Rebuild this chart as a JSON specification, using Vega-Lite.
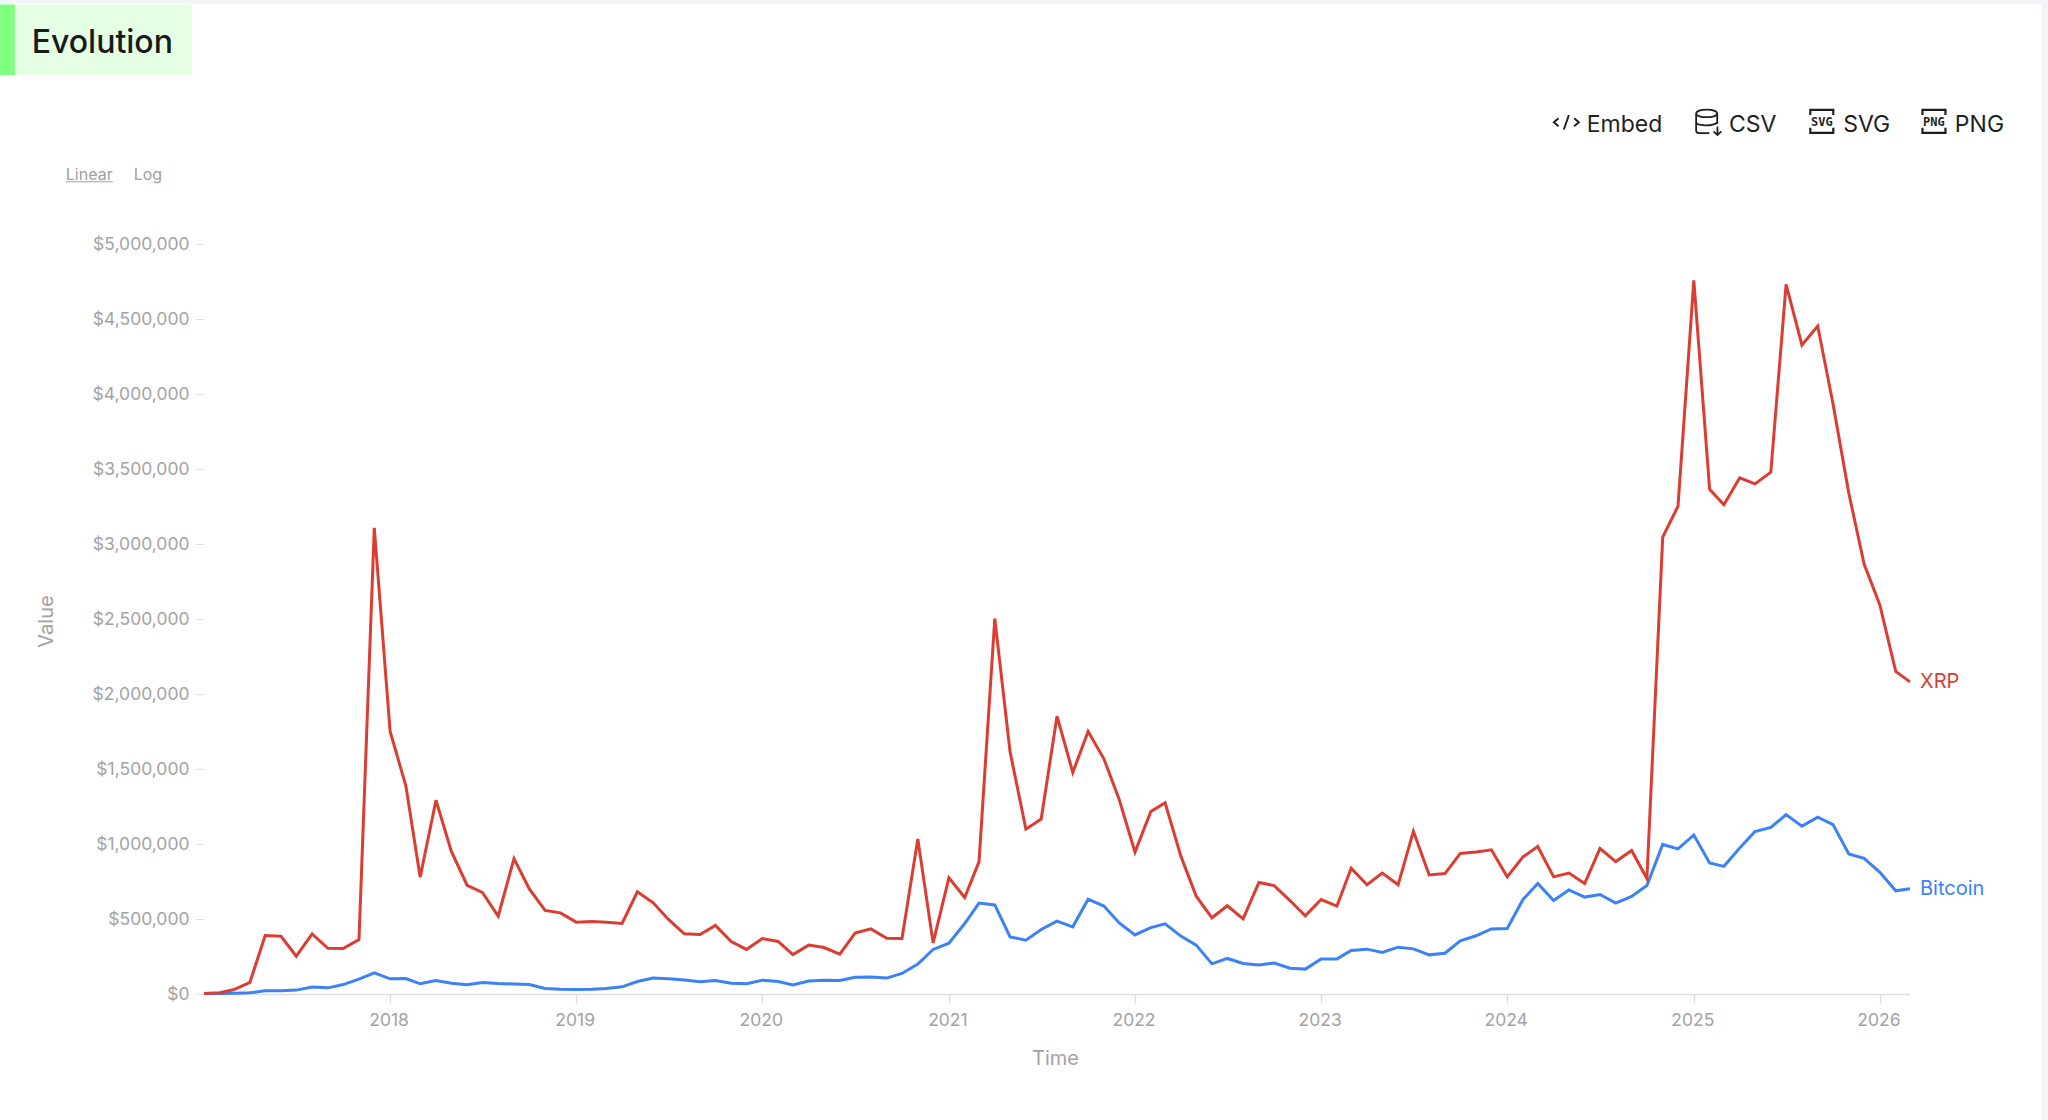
{
"$schema":"https://vega.github.io/schema/vega-lite/v6.json",
"autosize":{"type":"none"},
"padding":{"left":204,"top":244,"right":138,"bottom":126},
"width":1706,
"height":750,
"background":"#ffffff",
"config":{"view":{"stroke":null},"font":"Inter"},
"datasets":{
"ends":[{"date":"2026-03-01","asset":"Bitcoin","value":701000},{"date":"2026-03-01","asset":"XRP","value":2081000}],
"series":[
{"date":"2017-01-01","asset":"Bitcoin","value":3000},{"date":"2017-02-01","asset":"Bitcoin","value":3000},{"date":"2017-03-01","asset":"Bitcoin","value":5000},{"date":"2017-04-01","asset":"Bitcoin","value":8000},{"date":"2017-05-01","asset":"Bitcoin","value":21000},{"date":"2017-06-01","asset":"Bitcoin","value":21000},{"date":"2017-07-01","asset":"Bitcoin","value":26000},{"date":"2017-08-01","asset":"Bitcoin","value":46000},{"date":"2017-09-01","asset":"Bitcoin","value":41000},{"date":"2017-10-01","asset":"Bitcoin","value":63000},{"date":"2017-11-01","asset":"Bitcoin","value":99000},{"date":"2017-12-01","asset":"Bitcoin","value":141000},
{"date":"2018-01-01","asset":"Bitcoin","value":101000},{"date":"2018-02-01","asset":"Bitcoin","value":103000},{"date":"2018-03-01","asset":"Bitcoin","value":68000},{"date":"2018-04-01","asset":"Bitcoin","value":90000},{"date":"2018-05-01","asset":"Bitcoin","value":72000},{"date":"2018-06-01","asset":"Bitcoin","value":61000},{"date":"2018-07-01","asset":"Bitcoin","value":77000},{"date":"2018-08-01","asset":"Bitcoin","value":70000},{"date":"2018-09-01","asset":"Bitcoin","value":66000},{"date":"2018-10-01","asset":"Bitcoin","value":63000},{"date":"2018-11-01","asset":"Bitcoin","value":37000},{"date":"2018-12-01","asset":"Bitcoin","value":32000},
{"date":"2019-01-01","asset":"Bitcoin","value":30000},{"date":"2019-02-01","asset":"Bitcoin","value":32000},{"date":"2019-03-01","asset":"Bitcoin","value":37000},{"date":"2019-04-01","asset":"Bitcoin","value":48000},{"date":"2019-05-01","asset":"Bitcoin","value":83000},{"date":"2019-06-01","asset":"Bitcoin","value":106000},{"date":"2019-07-01","asset":"Bitcoin","value":101000},{"date":"2019-08-01","asset":"Bitcoin","value":93000},{"date":"2019-09-01","asset":"Bitcoin","value":81000},{"date":"2019-10-01","asset":"Bitcoin","value":90000},{"date":"2019-11-01","asset":"Bitcoin","value":72000},{"date":"2019-12-01","asset":"Bitcoin","value":68000},
{"date":"2020-01-01","asset":"Bitcoin","value":92000},{"date":"2020-02-01","asset":"Bitcoin","value":83000},{"date":"2020-03-01","asset":"Bitcoin","value":61000},{"date":"2020-04-01","asset":"Bitcoin","value":86000},{"date":"2020-05-01","asset":"Bitcoin","value":92000},{"date":"2020-06-01","asset":"Bitcoin","value":90000},{"date":"2020-07-01","asset":"Bitcoin","value":112000},{"date":"2020-08-01","asset":"Bitcoin","value":114000},{"date":"2020-09-01","asset":"Bitcoin","value":106000},{"date":"2020-10-01","asset":"Bitcoin","value":137000},{"date":"2020-11-01","asset":"Bitcoin","value":199000},{"date":"2020-12-01","asset":"Bitcoin","value":297000},
{"date":"2021-01-01","asset":"Bitcoin","value":339000},{"date":"2021-02-01","asset":"Bitcoin","value":470000},{"date":"2021-03-01","asset":"Bitcoin","value":606000},{"date":"2021-04-01","asset":"Bitcoin","value":594000},{"date":"2021-05-01","asset":"Bitcoin","value":381000},{"date":"2021-06-01","asset":"Bitcoin","value":359000},{"date":"2021-07-01","asset":"Bitcoin","value":430000},{"date":"2021-08-01","asset":"Bitcoin","value":486000},{"date":"2021-09-01","asset":"Bitcoin","value":448000},{"date":"2021-10-01","asset":"Bitcoin","value":632000},{"date":"2021-11-01","asset":"Bitcoin","value":586000},{"date":"2021-12-01","asset":"Bitcoin","value":474000},
{"date":"2022-01-01","asset":"Bitcoin","value":394000},{"date":"2022-02-01","asset":"Bitcoin","value":443000},{"date":"2022-03-01","asset":"Bitcoin","value":468000},{"date":"2022-04-01","asset":"Bitcoin","value":386000},{"date":"2022-05-01","asset":"Bitcoin","value":326000},{"date":"2022-06-01","asset":"Bitcoin","value":201000},{"date":"2022-07-01","asset":"Bitcoin","value":237000},{"date":"2022-08-01","asset":"Bitcoin","value":203000},{"date":"2022-09-01","asset":"Bitcoin","value":194000},{"date":"2022-10-01","asset":"Bitcoin","value":206000},{"date":"2022-11-01","asset":"Bitcoin","value":172000},{"date":"2022-12-01","asset":"Bitcoin","value":166000},
{"date":"2023-01-01","asset":"Bitcoin","value":234000},{"date":"2023-02-01","asset":"Bitcoin","value":234000},{"date":"2023-03-01","asset":"Bitcoin","value":290000},{"date":"2023-04-01","asset":"Bitcoin","value":299000},{"date":"2023-05-01","asset":"Bitcoin","value":277000},{"date":"2023-06-01","asset":"Bitcoin","value":312000},{"date":"2023-07-01","asset":"Bitcoin","value":301000},{"date":"2023-08-01","asset":"Bitcoin","value":261000},{"date":"2023-09-01","asset":"Bitcoin","value":272000},{"date":"2023-10-01","asset":"Bitcoin","value":354000},{"date":"2023-11-01","asset":"Bitcoin","value":388000},{"date":"2023-12-01","asset":"Bitcoin","value":434000},
{"date":"2024-01-01","asset":"Bitcoin","value":437000},{"date":"2024-02-01","asset":"Bitcoin","value":630000},{"date":"2024-03-01","asset":"Bitcoin","value":737000},{"date":"2024-04-01","asset":"Bitcoin","value":623000},{"date":"2024-05-01","asset":"Bitcoin","value":694000},{"date":"2024-06-01","asset":"Bitcoin","value":646000},{"date":"2024-07-01","asset":"Bitcoin","value":663000},{"date":"2024-08-01","asset":"Bitcoin","value":606000},{"date":"2024-09-01","asset":"Bitcoin","value":650000},{"date":"2024-10-01","asset":"Bitcoin","value":723000},{"date":"2024-11-01","asset":"Bitcoin","value":997000},{"date":"2024-12-01","asset":"Bitcoin","value":967000},
{"date":"2025-01-01","asset":"Bitcoin","value":1060000},{"date":"2025-02-01","asset":"Bitcoin","value":874000},{"date":"2025-03-01","asset":"Bitcoin","value":851000},{"date":"2025-04-01","asset":"Bitcoin","value":973000},{"date":"2025-05-01","asset":"Bitcoin","value":1083000},{"date":"2025-06-01","asset":"Bitcoin","value":1110000},{"date":"2025-07-01","asset":"Bitcoin","value":1196000},{"date":"2025-08-01","asset":"Bitcoin","value":1119000},{"date":"2025-09-01","asset":"Bitcoin","value":1179000},{"date":"2025-10-01","asset":"Bitcoin","value":1129000},{"date":"2025-11-01","asset":"Bitcoin","value":934000},{"date":"2025-12-01","asset":"Bitcoin","value":904000},
{"date":"2026-01-01","asset":"Bitcoin","value":811000},{"date":"2026-02-01","asset":"Bitcoin","value":688000},{"date":"2026-03-01","asset":"Bitcoin","value":701000},
{"date":"2017-01-01","asset":"XRP","value":3000},{"date":"2017-02-01","asset":"XRP","value":8000},{"date":"2017-03-01","asset":"XRP","value":30000},{"date":"2017-04-01","asset":"XRP","value":77000},{"date":"2017-05-01","asset":"XRP","value":390000},{"date":"2017-06-01","asset":"XRP","value":385000},{"date":"2017-07-01","asset":"XRP","value":252000},{"date":"2017-08-01","asset":"XRP","value":400000},{"date":"2017-09-01","asset":"XRP","value":305000},{"date":"2017-10-01","asset":"XRP","value":303000},{"date":"2017-11-01","asset":"XRP","value":363000},{"date":"2017-12-01","asset":"XRP","value":3108000},
{"date":"2018-01-01","asset":"XRP","value":1752000},{"date":"2018-02-01","asset":"XRP","value":1386000},{"date":"2018-03-01","asset":"XRP","value":779000},{"date":"2018-04-01","asset":"XRP","value":1292000},{"date":"2018-05-01","asset":"XRP","value":952000},{"date":"2018-06-01","asset":"XRP","value":725000},{"date":"2018-07-01","asset":"XRP","value":677000},{"date":"2018-08-01","asset":"XRP","value":519000},{"date":"2018-09-01","asset":"XRP","value":903000},{"date":"2018-10-01","asset":"XRP","value":701000},{"date":"2018-11-01","asset":"XRP","value":557000},{"date":"2018-12-01","asset":"XRP","value":541000},
{"date":"2019-01-01","asset":"XRP","value":479000},{"date":"2019-02-01","asset":"XRP","value":483000},{"date":"2019-03-01","asset":"XRP","value":479000},{"date":"2019-04-01","asset":"XRP","value":470000},{"date":"2019-05-01","asset":"XRP","value":681000},{"date":"2019-06-01","asset":"XRP","value":608000},{"date":"2019-07-01","asset":"XRP","value":497000},{"date":"2019-08-01","asset":"XRP","value":401000},{"date":"2019-09-01","asset":"XRP","value":397000},{"date":"2019-10-01","asset":"XRP","value":457000},{"date":"2019-11-01","asset":"XRP","value":350000},{"date":"2019-12-01","asset":"XRP","value":297000},
{"date":"2020-01-01","asset":"XRP","value":370000},{"date":"2020-02-01","asset":"XRP","value":350000},{"date":"2020-03-01","asset":"XRP","value":263000},{"date":"2020-04-01","asset":"XRP","value":326000},{"date":"2020-05-01","asset":"XRP","value":310000},{"date":"2020-06-01","asset":"XRP","value":266000},{"date":"2020-07-01","asset":"XRP","value":406000},{"date":"2020-08-01","asset":"XRP","value":434000},{"date":"2020-09-01","asset":"XRP","value":372000},{"date":"2020-10-01","asset":"XRP","value":370000},{"date":"2020-11-01","asset":"XRP","value":1034000},{"date":"2020-12-01","asset":"XRP","value":341000},
{"date":"2021-01-01","asset":"XRP","value":774000},{"date":"2021-02-01","asset":"XRP","value":643000},{"date":"2021-03-01","asset":"XRP","value":881000},{"date":"2021-04-01","asset":"XRP","value":2503000},{"date":"2021-05-01","asset":"XRP","value":1614000},{"date":"2021-06-01","asset":"XRP","value":1099000},{"date":"2021-07-01","asset":"XRP","value":1166000},{"date":"2021-08-01","asset":"XRP","value":1852000},{"date":"2021-09-01","asset":"XRP","value":1477000},{"date":"2021-10-01","asset":"XRP","value":1750000},{"date":"2021-11-01","asset":"XRP","value":1568000},{"date":"2021-12-01","asset":"XRP","value":1297000},
{"date":"2022-01-01","asset":"XRP","value":946000},{"date":"2022-02-01","asset":"XRP","value":1217000},{"date":"2022-03-01","asset":"XRP","value":1274000},{"date":"2022-04-01","asset":"XRP","value":919000},{"date":"2022-05-01","asset":"XRP","value":652000},{"date":"2022-06-01","asset":"XRP","value":508000},{"date":"2022-07-01","asset":"XRP","value":588000},{"date":"2022-08-01","asset":"XRP","value":501000},{"date":"2022-09-01","asset":"XRP","value":743000},{"date":"2022-10-01","asset":"XRP","value":723000},{"date":"2022-11-01","asset":"XRP","value":623000},{"date":"2022-12-01","asset":"XRP","value":521000},
{"date":"2023-01-01","asset":"XRP","value":630000},{"date":"2023-02-01","asset":"XRP","value":586000},{"date":"2023-03-01","asset":"XRP","value":839000},{"date":"2023-04-01","asset":"XRP","value":728000},{"date":"2023-05-01","asset":"XRP","value":806000},{"date":"2023-06-01","asset":"XRP","value":728000},{"date":"2023-07-01","asset":"XRP","value":1085000},{"date":"2023-08-01","asset":"XRP","value":794000},{"date":"2023-09-01","asset":"XRP","value":803000},{"date":"2023-10-01","asset":"XRP","value":937000},{"date":"2023-11-01","asset":"XRP","value":946000},{"date":"2023-12-01","asset":"XRP","value":961000},
{"date":"2024-01-01","asset":"XRP","value":781000},{"date":"2024-02-01","asset":"XRP","value":914000},{"date":"2024-03-01","asset":"XRP","value":983000},{"date":"2024-04-01","asset":"XRP","value":781000},{"date":"2024-05-01","asset":"XRP","value":806000},{"date":"2024-06-01","asset":"XRP","value":737000},{"date":"2024-07-01","asset":"XRP","value":970000},{"date":"2024-08-01","asset":"XRP","value":883000},{"date":"2024-09-01","asset":"XRP","value":957000},{"date":"2024-10-01","asset":"XRP","value":770000},{"date":"2024-11-01","asset":"XRP","value":3046000},{"date":"2024-12-01","asset":"XRP","value":3252000},
{"date":"2025-01-01","asset":"XRP","value":4757000},{"date":"2025-02-01","asset":"XRP","value":3365000},{"date":"2025-03-01","asset":"XRP","value":3262000},{"date":"2025-04-01","asset":"XRP","value":3441000},{"date":"2025-05-01","asset":"XRP","value":3401000},{"date":"2025-06-01","asset":"XRP","value":3478000},{"date":"2025-07-01","asset":"XRP","value":4731000},{"date":"2025-08-01","asset":"XRP","value":4327000},{"date":"2025-09-01","asset":"XRP","value":4453000},{"date":"2025-10-01","asset":"XRP","value":3935000},{"date":"2025-11-01","asset":"XRP","value":3338000},{"date":"2025-12-01","asset":"XRP","value":2867000},
{"date":"2026-01-01","asset":"XRP","value":2592000},{"date":"2026-02-01","asset":"XRP","value":2151000},{"date":"2026-03-01","asset":"XRP","value":2081000}
]},
"encoding":{
"x":{"type":"temporal","scale":{"domain":[{"year":2017,"month":1,"date":1},{"year":2026,"month":3,"date":1}]},"axis":{"title":"Time","format":"%Y","values":[{"year":2018},{"year":2019},{"year":2020},{"year":2021},{"year":2022},{"year":2023},{"year":2024},{"year":2025},{"year":2026}],"grid":false,"domainColor":"#dddddd","domainWidth":1.3,"tickColor":"#dddddd","tickWidth":1.3,"tickSize":9,"labelFontSize":17.5,"labelColor":"#a3a3a3","labelFont":"Inter","labelPadding":8,"labelOffset":-1.5,"titleFont":"Inter","titleFontSize":20,"titleFontWeight":"normal","titleColor":"#a3a3a3","titlePadding":20,"titleX":851}},
"y":{"type":"quantitative","scale":{"domain":[0,5000000],"nice":false},"axis":{"title":"Value","format":"$,.0f","values":[0,500000,1000000,1500000,2000000,2500000,3000000,3500000,4000000,4500000,5000000],"grid":false,"domain":false,"tickColor":"#e2e2e2","tickWidth":1,"tickSize":9,"labelFontSize":17.5,"labelColor":"#a3a3a3","labelFont":"Inter","labelPadding":6,"titleFont":"Inter","titleFontSize":20,"titleFontWeight":"normal","titleColor":"#a3a3a3","titlePadding":36,"titleY":377}}
},
"layer":[
{"data":{"values":[{"part":"top strip"}]},"mark":{"type":"rect","color":"#f3f4f8","clip":false},"encoding":{"x":{"datum":{"year":2015,"month":11,"date":28},"type":"temporal"},"x2":{"datum":{"year":2026,"month":12,"date":10}},"y":{"datum":6630000},"y2":{"datum":6601000}}},
{"data":{"values":[{"part":"right strip"}]},"mark":{"type":"rect","color":"#f3f4f8","clip":false},"encoding":{"x":{"datum":{"year":2026,"month":11,"date":15},"type":"temporal"},"x2":{"datum":{"year":2026,"month":12,"date":10}},"y":{"datum":6630000},"y2":{"datum":-840000}}},
{"data":{"values":[{"part":"title box"}]},"mark":{"type":"rect","color":"#e5ffe5","clip":false},"encoding":{"x":{"datum":{"year":2015,"month":11,"date":28},"type":"temporal"},"x2":{"datum":{"year":2016,"month":12,"date":8}},"y":{"datum":6597000},"y2":{"datum":6127000}}},
{"data":{"values":[{"part":"title bar"}]},"mark":{"type":"rect","color":"#7fff7f","clip":false},"encoding":{"x":{"datum":{"year":2015,"month":11,"date":28},"type":"temporal"},"x2":{"datum":{"year":2015,"month":12,"date":27}},"y":{"datum":6597000},"y2":{"datum":6127000}}},
{"data":{"values":[{"label":"Evolution"}]},"mark":{"type":"text","align":"left","baseline":"alphabetic","font":"Inter","fontSize":32,"fontWeight":500,"color":"#1a1a1a"},"encoding":{"x":{"datum":{"year":2016,"month":1,"date":29},"type":"temporal"},"y":{"datum":6275000},"text":{"field":"label"}}},
{"data":{"values":[{"label":"Linear"}]},"mark":{"type":"text","align":"left","baseline":"alphabetic","font":"Inter","fontSize":16,"color":"#a0a0a0"},"encoding":{"x":{"datum":{"year":2016,"month":4,"date":5},"type":"temporal"},"y":{"datum":5427000},"text":{"field":"label"}}},
{"data":{"values":[{"part":"underline"}]},"mark":{"type":"rule","color":"#a0a0a0","strokeWidth":1,"clip":false},"encoding":{"x":{"datum":{"year":2016,"month":4,"date":5},"type":"temporal"},"x2":{"datum":{"year":2016,"month":7,"date":6}},"y":{"datum":5415000}}},
{"data":{"values":[{"label":"Log"}]},"mark":{"type":"text","align":"left","baseline":"alphabetic","font":"Inter","fontSize":16,"color":"#a0a0a0"},"encoding":{"x":{"datum":{"year":2016,"month":8,"date":16},"type":"temporal"},"y":{"datum":5427000},"text":{"field":"label"}}},
{"data":{"values":[{"label":"Embed"}]},"mark":{"type":"text","align":"left","baseline":"alphabetic","font":"Inter","fontSize":23,"color":"#1f1f1f"},"encoding":{"x":{"datum":{"year":2024,"month":6,"date":5},"type":"temporal"},"y":{"datum":5749000},"text":{"field":"label"}}},
{"data":{"values":[{"label":"CSV"}]},"mark":{"type":"text","align":"left","baseline":"alphabetic","font":"Inter","fontSize":23,"color":"#1f1f1f"},"encoding":{"x":{"datum":{"year":2025,"month":3,"date":11},"type":"temporal"},"y":{"datum":5749000},"text":{"field":"label"}}},
{"data":{"values":[{"label":"SVG"}]},"mark":{"type":"text","align":"left","baseline":"alphabetic","font":"Inter","fontSize":23,"color":"#1f1f1f"},"encoding":{"x":{"datum":{"year":2025,"month":10,"date":21},"type":"temporal"},"y":{"datum":5749000},"text":{"field":"label"}}},
{"data":{"values":[{"label":"PNG"}]},"mark":{"type":"text","align":"left","baseline":"alphabetic","font":"Inter","fontSize":23,"color":"#1f1f1f"},"encoding":{"x":{"datum":{"year":2026,"month":5,"date":28},"type":"temporal"},"y":{"datum":5749000},"text":{"field":"label"}}},
{"data":{"values":[{"icon":"embed"}]},"mark":{"type":"point","shape":"M-0.62,-0.3 L-1,0.02 L-0.62,0.34 M0.2,-0.55 L-0.2,0.6 M0.62,-0.3 L1,0.02 L0.62,0.34","size":625,"filled":false,"opacity":1,"strokeWidth":1.9,"color":"#1f1f1f","clip":false},"encoding":{"x":{"datum":{"year":2024,"month":4,"date":26},"type":"temporal"},"y":{"datum":5813000}}},
{"data":{"values":[{"icon":"csv"}]},"mark":{"type":"point","shape":"M-0.92,-0.65 C-0.92,-1.05 0.7,-1.05 0.7,-0.65 C0.7,-0.28 -0.92,-0.28 -0.92,-0.65 L-0.92,0.65 Q-0.92,0.85 -0.7,0.85 L0.1,0.85 M-0.92,0 C-0.92,0.3 0.3,0.35 0.7,0.05 M0.7,-0.65 L0.7,0.15 M0.72,0.35 L0.72,1 M0.42,0.72 L0.72,1 L1.02,0.72","size":676,"filled":false,"opacity":1,"strokeWidth":1.8,"color":"#1f1f1f","clip":false},"encoding":{"x":{"datum":{"year":2025,"month":1,"date":29},"type":"temporal"},"y":{"datum":5813000}}},
{"data":{"values":[{"icon":"svg"}]},"mark":{"type":"point","shape":"M-1,-0.55 L-1,-1 L1,-1 L1,-0.55 M-1,0.55 L-1,1 L1,1 L1,0.55","size":529,"filled":false,"opacity":1,"strokeWidth":2.2,"color":"#1f1f1f","clip":false},"encoding":{"x":{"datum":{"year":2025,"month":9,"date":9},"type":"temporal"},"y":{"datum":5818000}}},
{"data":{"values":[{"icon":"png"}]},"mark":{"type":"point","shape":"M-1,-0.55 L-1,-1 L1,-1 L1,-0.55 M-1,0.55 L-1,1 L1,1 L1,0.55","size":529,"filled":false,"opacity":1,"strokeWidth":2.2,"color":"#1f1f1f","clip":false},"encoding":{"x":{"datum":{"year":2026,"month":4,"date":17},"type":"temporal"},"y":{"datum":5818000}}},
{"data":{"values":[{"label":"SVG"}]},"mark":{"type":"text","align":"center","baseline":"alphabetic","font":"DejaVu Sans Mono","fontSize":12,"fontWeight":"bold","color":"#1f1f1f"},"encoding":{"x":{"datum":{"year":2025,"month":9,"date":9},"type":"temporal"},"y":{"datum":5787000},"text":{"field":"label"}}},
{"data":{"values":[{"label":"PNG"}]},"mark":{"type":"text","align":"center","baseline":"alphabetic","font":"DejaVu Sans Mono","fontSize":12,"fontWeight":"bold","color":"#1f1f1f"},"encoding":{"x":{"datum":{"year":2026,"month":4,"date":17},"type":"temporal"},"y":{"datum":5787000},"text":{"field":"label"}}},
{"data":{"name":"series"},"mark":{"type":"line","strokeWidth":3,"interpolate":"linear","strokeJoin":"miter","clip":false},"encoding":{"x":{"field":"date","type":"temporal"},"y":{"field":"value","type":"quantitative"},"color":{"field":"asset","type":"nominal","scale":{"domain":["Bitcoin","XRP"],"range":["#3b82f6","#dc3d32"]},"legend":null},"order":{"field":"date","type":"temporal"}}},
{"data":{"name":"ends"},"mark":{"type":"text","align":"left","baseline":"middle","dx":10,"font":"Inter","fontSize":20},"encoding":{"x":{"field":"date","type":"temporal"},"y":{"field":"value","type":"quantitative"},"text":{"field":"asset"},"color":{"field":"asset","type":"nominal","legend":null}}}
]
}
